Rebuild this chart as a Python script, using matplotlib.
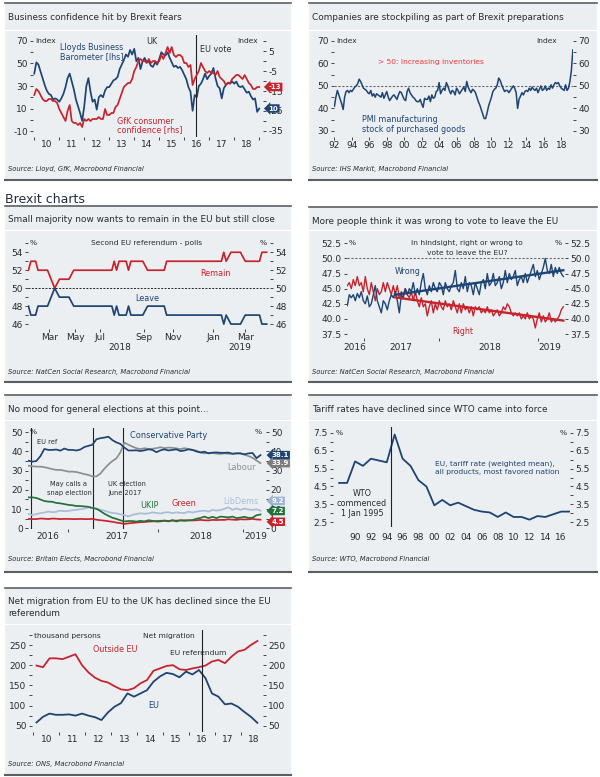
import numpy as np
import matplotlib
matplotlib.use('Agg')
import matplotlib.pyplot as plt
from matplotlib.lines import Line2D
from matplotlib.patches import Rectangle
import matplotlib.transforms as mtransforms

plt.rcParams['font.family'] = ['DejaVu Sans']
plt.rcParams['axes.unicode_minus'] = False

# ---------------- data ----------------
# 1) Lloyds business barometer (lhs) and GfK consumer confidence (rhs), monthly from Jan 2010
lloyds = [41, 51, 49, 43, 37, 31, 26, 23, 22, 18, 19, 18,
          16, 19, 23, 29, 37, 41, 34, 27, 18, 12, 6, -1,
          12, 30, 37, 25, 16, 18, 9, 20, 22, 20, 26, 29,
          29, 32, 35, 36, 38, 45, 49, 53, 58, 56, 62, 58,
          63, 52, 55, 45, 52, 55, 51, 52, 48, 47, 51, 49,
          54, 60, 58, 57, 60, 55, 51, 47, 48, 46, 47, 44,
          40, 36, 29, 25, 8, 22, 20, 30, 32, 36, 41, 36,
          39, 41, 46, 37, 30, 28, 19, 28, 31, 33, 32, 34,
          32, 34, 30, 29, 30, 27, 24, 25, 21, 18, 19, 7,
          10]
gfk = [-17, -14, -15, -17, -19, -20, -20, -19, -19, -20, -20, -21,
       -24, -26, -28, -30, -25, -22, -30, -31, -31, -32, -31, -33,
       -29, -30, -29, -30, -29, -29, -29, -28, -29, -29, -24, -27,
       -27, -26, -26, -23, -22, -19, -16, -13, -12, -11, -11, -9,
       -5, -3, 0, 1, 0, 0, -1, 1, -1, 0, 0, -1,
       0, 3, 1, 4, 7, 4, 7, 3, 2, 3, 3, 2,
       -1, -1, -3, -2, -12, -9, -7, -5, -1, -3, -5, -6,
       -5, -6, -6, -7, -5, -8, -9, -10, -12, -11, -11, -9,
       -8, -7, -7, -8, -9, -7, -9, -11, -12, -14, -14, -13,
       -13]
eu_vote = 2016.48

# 2) PMI manufacturing stock of purchased goods, every 2nd month from Jan 1992
pmi = [41, 45, 48, 46, 44, 42, 39.5, 45, 47.5, 48, 47, 48,
       47.5, 48.5, 49.5, 50, 51, 53, 52, 50.5, 49, 48.5, 48, 47,
       46.5, 48, 45.5, 46.5, 45, 46.5, 46, 45.5, 45, 47, 44.5, 46,
       47.5, 45, 43.5, 44.5, 45.5, 46, 45, 44, 46, 47.5, 47, 45.5,
       44, 43.5, 47.5, 49, 47, 46, 45, 44.5, 43.5, 43, 43, 44,
       42, 40.5, 44.5, 44, 44, 45.5, 43, 46, 44.5, 45, 47.5, 48,
       51.5, 46.5, 48, 49, 48, 51.5, 50, 48, 46.5, 48, 47.5, 46,
       49, 48, 46.5, 47.5, 48.5, 49.5, 47.5, 52, 49.5, 48, 47, 48.5,
       48, 47, 45, 43, 41.5, 39.5, 37.5, 35.5, 35.5, 38, 41, 43,
       45, 47.5, 48.5, 49, 50.5, 53.5, 52.5, 50.5, 49, 47.5, 48, 48,
       47, 48, 49, 50, 49, 47, 40, 44, 45.5, 47, 46, 47.5,
       48, 47.5, 49, 48, 49.5, 48.5, 48, 49, 47, 48.5, 50, 48,
       48.5, 50, 48, 49, 48.5, 50.5, 49, 50.5, 51.5, 51, 51.5, 50,
       49, 48.5, 48, 50.5, 48, 49, 52, 57, 66]

# 3) Second EU referendum polls (poll sequence position, %)
poll_pos = [0, 1, 3, 4, 8, 11, 13, 17, 19, 35, 36, 37, 38, 41, 42, 43,
            48, 50, 57, 58, 81, 82, 83, 85, 89, 91, 97, 98, 100]
remain = [52, 53, 53, 52, 52, 50, 51, 51, 52, 52, 53, 52, 53, 53, 52, 53,
          53, 52, 52, 53, 53, 54, 53, 54, 54, 53, 53, 54, 54]
leave = [48, 47, 47, 48, 48, 50, 49, 49, 48, 48, 47, 48, 47, 47, 48, 47,
         47, 48, 48, 47, 47, 46, 47, 46, 46, 47, 47, 46, 46]
month_pos = [8.7, 19.6, 30, 48.3, 60.6, 77.6, 91]
month_lab = ['Mar', 'May', 'Jul', 'Sep', 'Nov', 'Jan', 'Mar']
poll_year_pos = [38.5, 88.8]
poll_year_lab = ['2018', '2019']

# 4) In hindsight right / wrong to vote leave (poll sequence)
wrong = [42.2, 44, 43.5, 44, 43, 44.2, 43.5, 44.5, 43, 42.5, 43.8, 42,
         42.5, 44, 45.5, 43, 42, 41, 43, 42.5, 41.5, 43, 44, 43.5,
         44.5, 43, 41, 44, 43.5, 45, 44, 45, 44.5, 46, 44, 45,
         44, 46, 47.5, 45, 44, 45.5, 44.5, 46, 45, 44.5, 46, 45.5,
         44, 46, 45, 44.5, 45.5, 46, 48, 45, 44.5, 46, 45, 47,
         44.5, 46, 45.5, 44, 46, 45, 44, 46, 46.5, 45, 47.5, 45.5,
         46, 47.5, 45.5, 46, 47, 45, 46, 48, 46, 47.5, 46.5, 47,
         48, 45.5, 46.5, 47, 46, 47.5, 46, 47, 48, 49, 47, 48,
         46.5, 47.5, 48.5, 50, 48, 47.5, 49, 47, 48.5, 47.5, 48.5, 47.5,
         47]
right = [45.5, 46, 45, 46.5, 45.5, 47, 45.5, 46, 44.5, 47, 45, 44,
         46, 44.5, 43, 45, 44, 44.5, 46, 44.5, 46, 45, 44, 45.5,
         44, 45.5, 43.5, 44.5, 44, 45, 44, 43.5, 44.5, 43, 44.5, 43,
         42, 43.5, 42, 42.5, 40.5, 42, 43, 41, 42.5, 41.5, 43, 42,
         41.5, 43, 42, 42.5, 41.5, 43, 42, 41, 42.5, 41, 42.5, 41.5,
         42, 41, 42, 40.5, 42, 41.5, 42, 41, 41.5, 41, 42, 41,
         41.5, 40.5, 41, 41.5, 40.5, 41, 42, 41.5, 42.5, 42, 41, 40.5,
         41, 40.5, 41, 40, 40.5, 40, 41, 40, 40.5, 40, 38.5, 40,
         41, 39.5, 40.5, 39.5, 40, 41, 39.5, 40, 39.5, 40, 40.5, 41.5,
         42]
trend_from = 24
hind_year_ticks = [8.35, 45.85, 95.35]
hind_year_pos = [3.85, 26.85, 71.35, 101.35]
hind_year_lab = ['2016', '2017', '2018', '2019']

# 5) Voting intentions (poll sequence)
con = [35.2, 34.7, 35, 37.5, 41.3, 40.8, 40.8, 41, 40.4, 41.5,
       40.8, 40.8, 40.5, 41, 42.3, 42.9, 43.5, 46.3, 46.9, 47.2,
       47.7, 45.9, 44.7, 43.9, 42, 40.5, 40.5, 40.6, 40.2, 40.6,
       41.1, 40.8, 39.6, 40.6, 41.1, 40.5, 40.8, 41.1, 40.2, 40.5,
       41.1, 40.8, 40, 39.5, 39.9, 39, 39.4, 39.5, 39.3, 39.3,
       39.4, 38.8, 39, 39, 38.5, 39, 39.2, 36.5, 38.1]
lab = [32.6, 32.3, 32.1, 32.1, 31.8, 31.3, 30.8, 30.4, 30.4, 30,
       29.5, 29.5, 29.3, 28.8, 28.2, 27.8, 27, 27, 28.5, 31,
       33.2, 35, 36.4, 39.5, 44.6, 43.5, 42.5, 41.7, 41.2, 41.7,
       41.3, 41.4, 41.7, 42.2, 41.7, 42, 41.9, 41.6, 41.2, 41.7,
       41.3, 40.8, 40.4, 39.4, 39, 39.3, 39.2, 38.9, 38.7, 39,
       38.8, 38.8, 39, 39, 38.3, 37.6, 36.7, 35.3, 33.9]
ukip = [16.1, 16.1, 15.8, 15, 14.2, 13.9, 13.8, 13.2, 13, 12.6,
        12.2, 12, 11.6, 11.6, 11.4, 11.2, 10.6, 10.2, 9, 7.6,
        6.5, 5.5, 4.9, 4.2, 3.6, 3.8, 3.8, 3.5, 3.9, 3.6,
        4.2, 3.9, 3.5, 3.6, 4, 3.6, 4.3, 3.6, 4.2, 3.9,
        4.2, 4.3, 5, 5.4, 6.1, 5.3, 6, 5.3, 6.1, 5.9,
        5.7, 6.1, 5.3, 5.6, 6, 5.4, 5.5, 6.8, 7.2]
green = [4.9, 4.8, 4.8, 5.1, 5, 4.8, 5.1, 5, 4.8, 4.9,
         4.9, 4.8, 4.8, 4.9, 4.8, 4.8, 4.9, 4.5, 4.2, 4,
         3.7, 3.4, 3, 2.7, 2.3, 2.6, 2.8, 3, 3.2, 3.3,
         3.5, 3.6, 3.8, 3.9, 4, 3.8, 4, 4, 4.1, 4.2,
         4.1, 4.1, 4.2, 4.4, 4.2, 4.1, 4.4, 4.3, 4.4, 4.4,
         4.7, 4.5, 4.4, 4.7, 4.6, 4.7, 4.9, 4.6, 4.5]
libdem = [7.5, 6.9, 7.4, 7.9, 8.2, 8.7, 8.4, 8.6, 9.2, 8.9,
          9.1, 9.4, 9.6, 10, 10.3, 10.8, 10.6, 10.1, 9.7, 9.2,
          8.5, 8, 7.8, 7.3, 6.9, 6.2, 7, 7.5, 7.8, 7.6,
          7.8, 8.3, 8, 7.7, 8.2, 8.4, 7.9, 8.3, 8.1, 7.9,
          8.7, 8.2, 8.7, 9, 9.2, 8.7, 9.6, 9.2, 9.5, 10.2,
          10.9, 9.6, 10.4, 9.6, 10.3, 9.8, 9.6, 9.9, 9.2]
events_pos = [0.67, 16.1, 23.75]
elec_year_ticks = [9.9, 32.4, 53.7]
elec_year_pos = [4.8, 22.2, 43, 56.9]
elec_year_lab = ['2016', '2017', '2018', '2019']

# 6) EU tariff rate, weighted mean, %
tariff_years = list(range(1988, 2018))
tariff = [4.7, 4.7, 5.9, 5.65, 6.05, 5.95, 5.85, 7.4, 6.05, 5.65,
          4.85, 4.5, 3.45, 3.75, 3.45, 3.6, 3.4, 3.2, 3.1, 3.05,
          2.8, 3.05, 2.8, 2.8, 2.65, 2.85, 2.8, 2.95, 3.1, 3.1]
wto_start = 1995.0

# 7) Net migration, thousand persons, quarterly
eu_mig = [58, 72, 80, 77, 77, 78, 75, 80, 75, 71, 64, 83, 97, 106, 130, 122, 130, 138,
          159, 172, 181, 178, 170, 184, 177, 188, 168, 130, 122, 103, 105, 97, 84, 72, 57]
outside_mig = [199, 195, 217, 217, 215, 221, 227, 200, 182, 169, 161, 157, 148, 140, 138, 143,
               155, 163, 186, 192, 198, 200, 190, 188, 192, 195, 199, 209, 213, 205, 221, 234,
               238, 250, 260]
mig_quarters = 2010.125 + 0.25 * np.arange(len(eu_mig))

# ---------------- style ----------------
NAVY = '#1d4472'
RED = '#c8232c'
GREY = '#8e8e8e'
UKIPC = '#22703a'
LDC = '#a7bdd8'
BG = '#eceff2'
TXT = '#2a2a2a'
TICKC = '#444444'
BORDER = '#5c5f62'
FS_TICK = 6.5
FS_NOTE = 5.4

W, H = 600, 777
fig = plt.figure(figsize=(W / 100, H / 100), dpi=100)
fig.patch.set_facecolor('white')


def fx(px):
    return px / W


def fy(py):
    return 1 - py / H


def txt(px, py, s, color=TXT, size=FS_NOTE, ha='left', **kw):
    fig.text(fx(px), fy(py), s, color=color, fontsize=size, ha=ha, va='center', **kw)


def panel(x0, x1, top, sep, bottom, titles, source, src_y):
    fig.add_artist(Rectangle((fx(x0), fy(bottom)), fx(x1) - fx(x0), fy(top) - fy(bottom),
                             transform=fig.transFigure, fc=BG, ec='none', zorder=-5))
    fig.add_artist(Line2D([fx(x0), fx(x1)], [fy(top)] * 2, color=BORDER, lw=1.2, zorder=-4))
    fig.add_artist(Line2D([fx(x0), fx(x1)], [fy(bottom)] * 2, color=BORDER, lw=1.5, zorder=-4))
    fig.add_artist(Line2D([fx(x0), fx(x1)], [fy(sep)] * 2, color='white', lw=0.8, zorder=-4))
    for i, t in enumerate(titles):
        txt(x0 + 3, top + 14 + i * 11, t, size=6.4)
    txt(x0 + 3, src_y, source, size=4.9, style='italic')


def make_ax(x0, x1, y0, y1, xlim, ylim):
    ax = fig.add_axes([fx(x0), fy(y1), fx(x1) - fx(x0), fy(y0) - fy(y1)])
    ax.set_xlim(*xlim)
    ax.set_ylim(*ylim)
    ax.patch.set_visible(False)
    for s in ax.spines.values():
        s.set_visible(False)
    ax.tick_params(which='both', direction='out', color=TICKC, width=0.7, length=2.5,
                   labelsize=FS_TICK, labelcolor=TXT, pad=1.2)
    return ax


def yaxis(ax, major, minor, fmt='{:g}', left=True, right=True):
    ax.set_yticks(major)
    ax.set_yticklabels([fmt.format(v) for v in major])
    ax.set_yticks(minor, minor=True)
    ax.tick_params(axis='y', which='both', left=left, right=right,
                   labelleft=left, labelright=right)


def xaxis(ax, ticks, labpos, labels, pad):
    ax.set_xticks(ticks)
    ax.set_xticklabels([])
    ax.set_xticks(labpos, minor=True)
    ax.set_xticklabels(labels, minor=True)
    ax.tick_params(axis='x', which='minor', length=0, pad=pad)


def endbox(ax, yval, s, color, ytrans=None, dy=0):
    tr = mtransforms.blended_transform_factory(ax.transAxes, ytrans if ytrans is not None else ax.transData)
    ax.annotate(s, xy=(1.0, yval), xycoords=tr, xytext=(4, dy), textcoords='offset points',
                ha='left', va='center', fontsize=5.0, color='white', fontweight='bold',
                bbox=dict(boxstyle='larrow,pad=0.18', fc=color, ec='none'),
                zorder=6, annotation_clip=False)


# ---------------- panel 1: business confidence ----------------
panel(5, 291, 3, 30, 180, ['Business confidence hit by Brexit fears'],
      'Source: Lloyd, GfK, Macrobond Financial', 169)
x1 = 2010 + np.arange(len(lloyds)) / 12
ax = make_ax(33, 263, 35, 137, (2009.95, 2019.15), (-15.3, 75.3))
ax.plot(x1, lloyds, color=NAVY, lw=1.25)
yaxis(ax, [-10, 10, 30, 50, 70], [0, 20, 40, 60], right=False)
xaxis(ax, range(2010, 2020), [y + 0.5 for y in range(2010, 2019)],
      [f'{y % 100:02d}' for y in range(2010, 2019)], pad=2.5)
ax.axvline(eu_vote, color='#222222', lw=0.8)
ax2 = ax.twinx()
ax2.set_ylim(-38, 13)
for s in ax2.spines.values():
    s.set_visible(False)
ax2.plot(x1, gfk, color=RED, lw=1.25)
ax2.tick_params(which='both', direction='out', color=TICKC, width=0.7, length=2.5,
                labelsize=FS_TICK, labelcolor=TXT, pad=1.2)
yaxis(ax2, [-35, -25, -15, -5, 5], [-30, -20, -10, 0, 10], left=False)
endbox(ax2, gfk[-1], str(gfk[-1]), RED)
endbox(ax2, lloyds[-1], str(lloyds[-1]), NAVY, ytrans=ax.transData)
txt(35, 41, 'Index')
txt(258, 41, 'Index', ha='right')
txt(152, 42, 'UK', ha='center', size=5.8)
txt(60, 48, 'Lloyds Business', color=NAVY, size=5.8)
txt(60, 57, 'Barometer [lhs]', color=NAVY, size=5.8)
txt(117, 122, 'GfK consumer', color=RED, size=5.8)
txt(117, 130, 'confidence [rhs]', color=RED, size=5.8)
txt(200, 50, 'EU vote', size=5.8)

# ---------------- panel 2: stockpiling ----------------
panel(309, 597, 3, 30, 180, ['Companies are stockpiling as part of Brexit preparations'],
      'Source: IHS Markit, Macrobond Financial', 169)
x2 = 1992 + np.arange(len(pmi)) / 6
ax = make_ax(334, 573, 38, 137, (1991.95, 2019.35), (27.3, 71.3))
ax.axhline(50, color='#6a6a6a', lw=0.8, ls=(0, (2, 1.5)))
ax.plot(x2, pmi, color=NAVY, lw=1.1)
yaxis(ax, [30, 40, 50, 60, 70], [35, 45, 55, 65])
ax.set_xticks(range(1992, 2019, 2))
ax.set_xticklabels([f'{y % 100:02d}' for y in range(1992, 2019, 2)])
ax.tick_params(axis='x', pad=0.5)
txt(336, 41, 'Index')
txt(557, 41, 'Index', ha='right')
txt(378, 62, '> 50: Increasing inventories', color='#ef3a3a')
txt(362, 120, 'PMI manufacturing', color=NAVY, size=5.8)
txt(362, 129, 'stock of purchased goods', color=NAVY, size=5.8)

# ---------------- section header ----------------
txt(5, 199, 'Brexit charts', size=9, color='#1f2d3d')

# ---------------- panel 3: second referendum ----------------
panel(5, 291, 206, 230, 382, ['Small majority now wants to remain in the EU but still close'],
      'Source: NatCen Social Research, Macrobond Financial', 372)
ax = make_ax(28, 270, 243.3, 329, (-0.2, 101.4), (45.45, 55))
ax.axhline(50, color='#222222', lw=0.7, ls=(0, (2, 1.5)))
ax.plot(poll_pos, remain, color=RED, lw=1.25)
ax.plot(poll_pos, leave, color=NAVY, lw=1.25)
yaxis(ax, [46, 48, 50, 52, 54], [47, 49, 51, 53, 55])
ax.set_xticks(month_pos)
ax.set_xticklabels(month_lab)
ax.tick_params(axis='x', pad=0.3)
ytr = mtransforms.blended_transform_factory(ax.transData, fig.transFigure)
for p, lb in zip(poll_year_pos, poll_year_lab):
    ax.text(p, fy(348), lb, transform=ytr, ha='center', va='center', fontsize=FS_TICK, color=TXT)
txt(30, 243, '%')
txt(267, 243, '%', ha='right')
txt(147, 243, 'Second EU referendum - polls', ha='center')
txt(200, 273, 'Remain', color=RED, size=5.8)
txt(135, 298, 'Leave', color=NAVY, size=5.8)

# ---------------- panel 4: right or wrong ----------------
panel(309, 597, 207, 230, 382, ['More people think it was wrong to vote to leave the EU'],
      'Source: NatCen Social Research, Macrobond Financial', 372)
idx4 = np.arange(len(wrong))
ax = make_ax(346.7, 565, 242.7, 338, (-0.3, 108.85), (36.84, 52.6))
ax.axhline(50, color='#6a6a6a', lw=0.8, ls=(0, (2, 1.5)))
ax.plot(idx4, right, color=RED, lw=1.0)
ax.plot(idx4, wrong, color=NAVY, lw=1.0)
sel = idx4 >= trend_from
for vals, c in [(right, RED), (wrong, NAVY)]:
    coef = np.polyfit(idx4[sel], np.array(vals)[sel], 1)
    xx = np.array([idx4[sel][0], idx4[-1]])
    ax.plot(xx, np.polyval(coef, xx), color=c, lw=1.7)
yaxis(ax, [37.5, 40, 42.5, 45, 47.5, 50, 52.5], [], fmt='{:.1f}')
xaxis(ax, hind_year_ticks, hind_year_pos, hind_year_lab, pad=3.5)
txt(349, 243, '%')
txt(562, 243, '%', ha='right')
txt(467, 243, 'In hindsight, right or wrong to', ha='center')
txt(467, 253, 'vote to leave the EU?', ha='center')
txt(395, 271, 'Wrong', color=NAVY, size=5.8)
txt(452, 332, 'Right', color=RED, size=5.8)

# ---------------- panel 5: elections ----------------
panel(5, 291, 395, 420, 572, ['No mood for general elections at this point...'],
      'Source: Britain Elects, Macrobond Financial', 559)
k5 = np.arange(len(con))
ax = make_ax(28, 265.7, 428, 529, (-0.08, 59.3), (-0.35, 52.2))
for pos in events_pos:
    ax.axvline(pos, color='#222222', lw=0.8)
ax.plot(k5, libdem, color=LDC, lw=1.25)
ax.plot(k5, green, color=RED, lw=1.25)
ax.plot(k5, ukip, color=UKIPC, lw=1.25)
ax.plot(k5, lab, color=GREY, lw=1.25)
ax.plot(k5, con, color=NAVY, lw=1.25)
yaxis(ax, [0, 10, 20, 30, 40, 50], [5, 15, 25, 35, 45])
xaxis(ax, elec_year_ticks, elec_year_pos, elec_year_lab, pad=2)
endbox(ax, con[-1], f'{con[-1]:.1f}', NAVY)
endbox(ax, lab[-1], f'{lab[-1]:.1f}', '#7d7d7d')
endbox(ax, libdem[-1], f'{libdem[-1]:.1f}', '#9cb4d2', dy=7)
endbox(ax, ukip[-1], f'{ukip[-1]:.1f}', UKIPC, dy=2.5)
endbox(ax, green[-1], f'{green[-1]:.1f}', RED, dy=-1.5)
txt(30, 432, '%')
txt(262, 432, '%', ha='right')
txt(130, 435, 'Conservative Party', color=NAVY, size=5.9)
txt(227, 467, 'Labour', color=GREY, size=5.9)
txt(140, 506, 'UKIP', color=UKIPC, size=5.9)
txt(172, 503, 'Green', color=RED, size=5.9)
txt(223, 501, 'LibDems', color=LDC, size=5.9)
txt(37, 442, 'EU ref', size=4.8)
txt(69, 484, 'May calls a', ha='center', size=4.8)
txt(69, 493, 'snap election', ha='center', size=4.8)
txt(108, 484, 'UK election', size=4.8)
txt(108, 493, 'June 2017', size=4.8)

# ---------------- panel 6: tariffs ----------------
panel(309, 597, 395, 420, 572, ['Tariff rates have declined since WTO came into force'],
      'Source: WTO, Macrobond Financial', 559)
ax = make_ax(333, 570, 427, 527, (1987.72, 2017.61), (2.24, 7.82))
ax.plot(np.array(tariff_years) + 0.5, tariff, color=NAVY, lw=1.3)
ax.axvline(wto_start, color='#222222', lw=0.8)
yaxis(ax, [2.5, 3.5, 4.5, 5.5, 6.5, 7.5], [3, 4, 5, 6, 7], fmt='{:.1f}')
xaxis(ax, [], [y + 0.5 for y in range(1990, 2017, 2)],
      [f'{y % 100:02d}' for y in range(1990, 2017, 2)], pad=4)
txt(336, 433, '%')
txt(567, 433, '%', ha='right')
txt(435, 464, 'EU, tariff rate (weighted mean),', color=NAVY)
txt(435, 472, 'all products, most favored nation', color=NAVY)
txt(362, 494, 'WTO', ha='center', size=5.8)
txt(362, 504, 'commenced', ha='center', size=5.8)
txt(362, 513, '1 Jan 1995', ha='center', size=5.8)

# ---------------- panel 7: net migration ----------------
panel(5, 291, 588, 624, 775,
      ['Net migration from EU to the UK has declined since the EU', 'referendum'],
      'Source: ONS, Macrobond Financial', 764)
ax = make_ax(31.7, 263, 630, 731.7, (2009.94, 2018.84), (35.1, 287.2))
ax.plot(mig_quarters, outside_mig, color=RED, lw=1.3)
ax.plot(mig_quarters, eu_mig, color=NAVY, lw=1.3)
ax.axvline(eu_vote, color='#222222', lw=0.8)
yaxis(ax, [50, 100, 150, 200, 250], [75, 125, 175, 225, 275])
xaxis(ax, range(2010, 2019), [y + 0.5 for y in range(2010, 2019)],
      [f'{y % 100:02d}' for y in range(2010, 2019)], pad=2.2)
txt(34, 636, 'thousand persons')
txt(143, 636, 'Net migration')
txt(93, 649, 'Outside EU', color=RED, size=5.8)
txt(170, 653, 'EU referendum')
txt(148, 706, 'EU', color=NAVY, size=5.8)

fig.savefig('out.png', dpi=100, facecolor='white')
